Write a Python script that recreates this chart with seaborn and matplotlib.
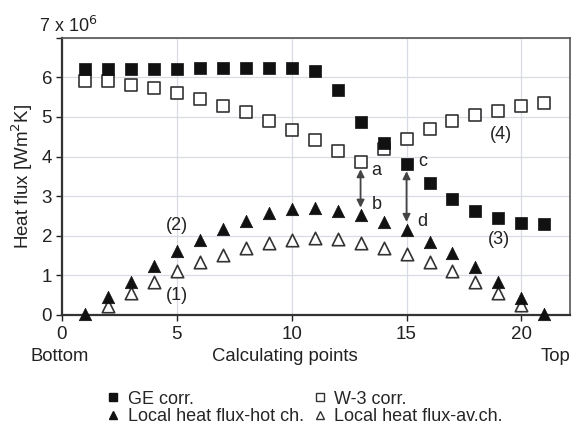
import matplotlib
matplotlib.use("Agg")
import matplotlib.pyplot as plt
import seaborn as sns
import pandas as pd
from matplotlib.lines import Line2D

points = list(range(1, 22))
ge_corr = [6.22, 6.22, 6.22, 6.22, 6.22, 6.25, 6.25, 6.25, 6.25, 6.25,
           6.15, 5.67, 4.88, 4.35, 3.82, 3.34, 2.94, 2.63, 2.45, 2.33, 2.30]
w3_corr = [5.90, 5.90, 5.80, 5.72, 5.60, 5.46, 5.27, 5.12, 4.90, 4.68,
           4.42, 4.15, 3.86, 4.18, 4.45, 4.70, 4.89, 5.04, 5.16, 5.29, 5.36]
hot_ch = [0.02, 0.45, 0.84, 1.24, 1.62, 1.90, 2.18, 2.38, 2.58, 2.68,
          2.70, 2.63, 2.53, 2.36, 2.15, 1.85, 1.57, 1.22, 0.84, 0.43, 0.02]
av_points = list(range(2, 21))
av_ch = [0.23, 0.56, 0.84, 1.11, 1.34, 1.52, 1.70, 1.82, 1.90, 1.95,
         1.92, 1.82, 1.70, 1.54, 1.34, 1.11, 0.84, 0.56, 0.25]

labels = ["GE corr.", "W-3 corr.", "Local heat flux-hot ch.", "Local heat flux-av.ch."]

sns.set_theme(style="whitegrid")
plt.rcParams['font.family'] = ['Liberation Sans', 'DejaVu Sans']
FS = 13
plt.rcParams['font.size'] = FS

fig = plt.figure(figsize=(5.72, 4.25), dpi=100)
ax = fig.add_axes([0.108, 0.259, 0.888, 0.652])

df_ge = pd.DataFrame({"x": points, "y": ge_corr})
df_w3 = pd.DataFrame({"x": points, "y": w3_corr})
df_hot = pd.DataFrame({"x": points, "y": hot_ch})
df_av = pd.DataFrame({"x": av_points, "y": av_ch})

ms = 80
sns.scatterplot(data=df_av, x="x", y="y", ax=ax, marker="^", s=ms,
                facecolor="white", edgecolor="#333333", linewidth=1.2, zorder=3, clip_on=False)
sns.scatterplot(data=df_hot, x="x", y="y", ax=ax, marker="^", s=ms,
                color="#111111", edgecolor="#111111", linewidth=0.5, zorder=4, clip_on=False)
sns.scatterplot(data=df_w3, x="x", y="y", ax=ax, marker="s", s=ms,
                facecolor="white", edgecolor="#333333", linewidth=1.2, zorder=3, clip_on=False)
sns.scatterplot(data=df_ge, x="x", y="y", ax=ax, marker="s", s=ms,
                color="#111111", edgecolor="#111111", linewidth=0.5, zorder=4, clip_on=False)

ax.set_xlim(0, 22.1)
ax.set_ylim(0, 7)
ax.set_xticks([0, 5, 10, 15, 20])
ax.set_yticks([0, 1, 2, 3, 4, 5, 6, 7])
ax.set_yticklabels(["0", "1", "2", "3", "4", "5", "6", ""])
ax.grid(True, color="#d8dce4", linewidth=0.9)
ax.set_xlabel("")
ax.set_ylabel("Heat flux [Wm$^2$K]", fontsize=13.5, color="#222222", labelpad=5)
ax.tick_params(axis="both", labelsize=13.5, colors="#222222", length=4,
               direction="out", left=True, bottom=True, width=1, pad=3)
ax.tick_params(axis="x", pad=4)
for side in ["left", "bottom"]:
    ax.spines[side].set_color("#333333")
    ax.spines[side].set_linewidth(1.6)
for side in ["top", "right"]:
    ax.spines[side].set_color("#555555")
    ax.spines[side].set_linewidth(1.2)

# arrows
arrow_kw = dict(arrowstyle="<|-|>", color="#444444", lw=1.3, mutation_scale=11)
ax.annotate("", xy=(13, 2.64), xytext=(13, 3.75), arrowprops=arrow_kw, zorder=5)
ax.annotate("", xy=(15, 2.28), xytext=(15, 3.70), arrowprops=arrow_kw, zorder=5)

txt = dict(fontsize=FS, color="#222222", va="center", ha="center")
ax.text(13.7, 3.65, "a", **txt)
ax.text(13.7, 2.80, "b", **txt)
ax.text(15.7, 3.87, "c", **txt)
ax.text(15.7, 2.36, "d", **txt)
ax.text(5.0, 0.50, "(1)", **txt)
ax.text(5.0, 2.25, "(2)", **txt)
ax.text(19.0, 1.90, "(3)", **txt)
ax.text(19.1, 4.56, "(4)", **txt)

fig.text(0.068, 0.94, "7 x 10$^6$", fontsize=FS, color="#222222", ha="left", va="center")
fig.text(0.105, 0.162, "Bottom", fontsize=13.3, color="#222222", ha="center", va="center")
fig.text(0.498, 0.162, "Calculating points", fontsize=13.3, color="#222222", ha="center", va="center")
fig.text(0.972, 0.162, "Top", fontsize=13.3, color="#222222", ha="center", va="center")

handles = [
    Line2D([], [], marker="s", linestyle="", markersize=6, markerfacecolor="#111111", markeredgecolor="#111111"),
    Line2D([], [], marker="^", linestyle="", markersize=6, markerfacecolor="#111111", markeredgecolor="#111111"),
    Line2D([], [], marker="s", linestyle="", markersize=6, markerfacecolor="white", markeredgecolor="#333333"),
    Line2D([], [], marker="^", linestyle="", markersize=6, markerfacecolor="white", markeredgecolor="#333333"),
]
leg_labels = [labels[0], labels[2], labels[1], labels[3]]
fig.legend(handles, leg_labels, ncol=2, loc="center left", bbox_to_anchor=(0.182, 0.04),
           frameon=False, fontsize=13, handletextpad=0.3, columnspacing=0.4,
           labelspacing=0.05, handlelength=1.0, borderpad=0.0, borderaxespad=0.0)

fig.savefig("out.png", dpi=100)
